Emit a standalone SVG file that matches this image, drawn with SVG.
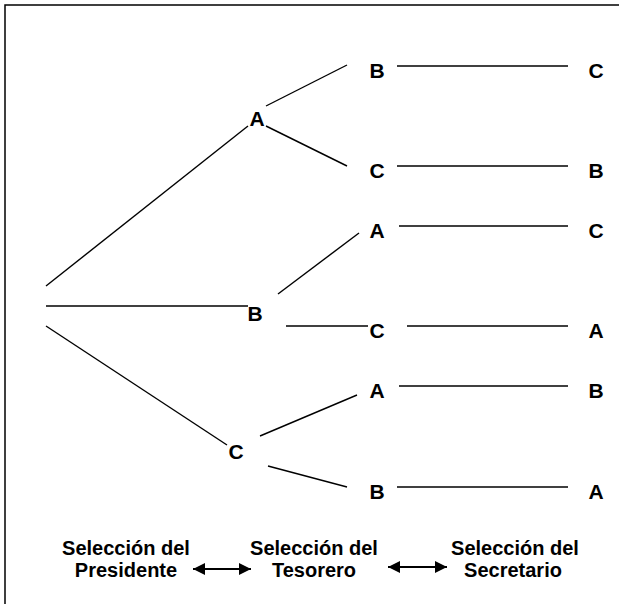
<svg xmlns="http://www.w3.org/2000/svg" width="619" height="604" viewBox="0 0 619 604">
<style>
.lbl{font-family:"Liberation Sans",Arial,sans-serif;font-weight:bold;font-size:20px;fill:#000;text-anchor:middle}
.nd{font-family:"Liberation Sans",Arial,sans-serif;font-weight:bold;font-size:21px;fill:#000;text-anchor:middle}
.ln{stroke:#000;stroke-width:1.4;fill:none}
.ar{stroke:#000;stroke-width:2;fill:none}
</style>
<defs>
<marker id="ah" markerWidth="13" markerHeight="12" refX="12" refY="6" orient="auto-start-reverse" markerUnits="userSpaceOnUse">
<path d="M0,0 L12,6 L0,12 Z" fill="#000"/>
</marker>
</defs>
<rect width="619" height="604" fill="#fff"/>
<path d="M5,604 V5 H619" stroke="#000" stroke-width="1.5" fill="none"/>
<g id="connectors">
<line class="ln" x1="46" y1="286" x2="248" y2="126"/>
<line class="ln" x1="46" y1="306" x2="248" y2="306"/>
<line class="ln" x1="46" y1="326" x2="227" y2="445"/>
<line class="ln" x1="266" y1="106" x2="347" y2="65"/>
<line class="ln" x1="266" y1="126" x2="347" y2="166"/>
<line class="ln" x1="397" y1="66" x2="568" y2="66"/>
<line class="ln" x1="397" y1="166" x2="568" y2="166"/>
<line class="ln" x1="278" y1="294" x2="359" y2="233"/>
<line class="ln" x1="399" y1="226" x2="568" y2="226"/>
<line class="ln" x1="286" y1="326" x2="368" y2="326"/>
<line class="ln" x1="407" y1="326" x2="568" y2="326"/>
<line class="ln" x1="260" y1="436" x2="357" y2="395"/>
<line class="ln" x1="399" y1="386" x2="568" y2="386"/>
<line class="ln" x1="268" y1="466" x2="347" y2="487"/>
<line class="ln" x1="397" y1="487" x2="568" y2="487"/>
<line class="ar" x1="193" y1="569" x2="251" y2="569" marker-start="url(#ah)" marker-end="url(#ah)"/>
<line class="ar" x1="388" y1="567" x2="447" y2="567" marker-start="url(#ah)" marker-end="url(#ah)"/>
</g>
<g id="n-A1"><text class="nd" x="257" y="126">A</text></g>
<g id="n-B1"><text class="nd" x="255" y="321">B</text></g>
<g id="n-C1"><text class="nd" x="236" y="459">C</text></g>
<g id="n-AB"><text class="nd" x="377" y="78">B</text></g>
<g id="n-AC"><text class="nd" x="377" y="178">C</text></g>
<g id="n-BA"><text class="nd" x="377" y="238">A</text></g>
<g id="n-BC"><text class="nd" x="377" y="338">C</text></g>
<g id="n-CA"><text class="nd" x="377" y="398">A</text></g>
<g id="n-CB"><text class="nd" x="377" y="499">B</text></g>
<g id="n-ABC"><text class="nd" x="596" y="78">C</text></g>
<g id="n-ACB"><text class="nd" x="596" y="178">B</text></g>
<g id="n-BAC"><text class="nd" x="596" y="238">C</text></g>
<g id="n-BCA"><text class="nd" x="596" y="338">A</text></g>
<g id="n-CAB"><text class="nd" x="596" y="398">B</text></g>
<g id="n-CBA"><text class="nd" x="596" y="499">A</text></g>
<g id="lbl-presidente"><text class="lbl" x="126" y="555">Selección del</text><text class="lbl" x="126" y="577">Presidente</text></g>
<g id="lbl-tesorero"><text class="lbl" x="314" y="555">Selección del</text><text class="lbl" x="314" y="577">Tesorero</text></g>
<g id="lbl-secretario"><text class="lbl" x="515" y="555">Selección del</text><text class="lbl" x="513" y="577">Secretario</text></g>
</svg>
